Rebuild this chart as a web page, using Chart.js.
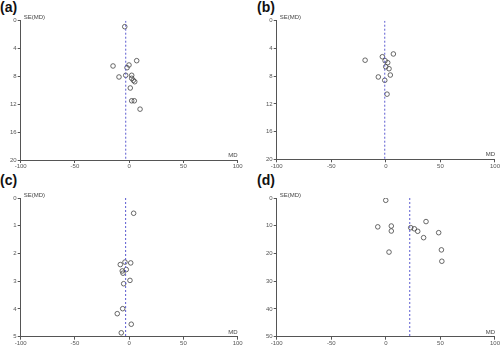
<!DOCTYPE html>
<html>
<head>
<meta charset="utf-8">
<script src="https://cdn.jsdelivr.net/npm/chart.js@4"></script>
<style>
  body { margin: 0; width: 500px; height: 345px; background: #fff; position: relative; overflow: hidden;
         font-family: "Liberation Sans", Arial, sans-serif; }
  canvas { position: absolute; }
  .tag { position: absolute; font-weight: bold; font-size: 14px; line-height: 14px; color: #111; }
</style>
</head>
<body>
<div class="tag" style="left:0px;top:0px">(a)</div>
<div class="tag" style="left:257px;top:0px">(b)</div>
<div class="tag" style="left:0px;top:173px">(c)</div>
<div class="tag" style="left:257px;top:173px">(d)</div>
<canvas id="pa" width="250" height="172" style="left:0;top:0"></canvas>
<canvas id="pb" width="250" height="172" style="left:250px;top:0"></canvas>
<canvas id="pc" width="250" height="173" style="left:0;top:172px"></canvas>
<canvas id="pd" width="250" height="173" style="left:250px;top:172px"></canvas>
<script>
// Funnel plots: mean difference (MD) against its standard error SE(MD)
const mdTicks = [-100, -50, 0, 50, 100];

// (a)
const mdA = [-4.1, 6.9, -0.2, -14.9, -2.0, -9.4, -3.2, 2.3, 2.3, 3.8, 5.1, 1.0, 2.3, 4.7, 10.0];
const seA = [0.86, 5.74, 6.36, 6.5, 6.75, 8.08, 7.84, 7.84, 8.27, 8.56, 8.76, 9.66, 11.5, 11.5, 12.7];
const pooledA = -3.2;
const seTicksA = [0, 4, 8, 12, 16, 20];

// (b)
const mdB = [6.9, -19.0, -3.2, -0.7, 1.7, -0.1, 2.9, 4.1, -6.9, -1.0, 1.1];
const seB = [4.8, 5.7, 5.2, 5.77, 6.06, 6.64, 6.93, 7.84, 8.12, 8.6, 10.6];
const pooledB = -1.0;
const seTicksB = [0, 4, 8, 12, 16, 20];

// (c)
const mdC = [4.1, -3.9, 1.4, -8.2, -2.7, -6.4, -5.7, 0.7, -5.1, -6.0, -11.0, 1.9, -7.3];
const seC = [0.55, 2.31, 2.34, 2.4, 2.58, 2.63, 2.71, 2.97, 3.09, 3.99, 4.17, 4.55, 4.86];
const pooledC = -3.3;
const seTicksC = [0, 1, 2, 3, 4, 5];

// (d)
const mdD = [-0.1, -7.4, 5.0, 5.0, 36.8, 22.8, 26.1, 29.2, 48.4, 34.6, 2.9, 50.9, 51.3];
const seD = [0.83, 10.4, 10.1, 11.9, 8.5, 10.7, 11.1, 12.0, 12.5, 14.3, 19.5, 18.7, 22.8];
const pooledD = 21.9;
const seTicksD = [0, 10, 20, 30, 40, 50];

const axisColor = '#555';
const tickFont = { family: '"Liberation Sans", Arial, sans-serif', size: 6 };

const axisTitles = {
  id: 'axisTitles',
  afterDraw(chart) {
    const { ctx, chartArea } = chart;
    ctx.save();
    ctx.fillStyle = '#444';
    ctx.font = '6px "Liberation Sans", Arial, sans-serif';
    ctx.textAlign = 'left';
    ctx.textBaseline = 'alphabetic';
    ctx.fillText('SE(MD)', chartArea.left + 3, chartArea.top - 1.5);
    ctx.textAlign = 'right';
    ctx.fillText('MD', chartArea.right, chartArea.bottom - 3);
    ctx.restore();
  }
};

function funnel(id, md, se, pooled, seTicks, box) {
  const canvas = document.getElementById(id);
  const seMax = seTicks[seTicks.length - 1];
  const points = md.map((v, i) => ({ x: v, y: se[i] }));
  new Chart(canvas, {
    type: 'scatter',
    data: {
      datasets: [
        {
          type: 'line',
          data: [{ x: pooled, y: seTicks[0] }, { x: pooled, y: seMax }],
          borderColor: '#5b5bd0',
          borderWidth: 1,
          borderDash: [2, 2],
          pointRadius: 0,
          fill: false
        },
        {
          data: points,
          pointStyle: 'circle',
          pointRadius: 2.3,
          borderWidth: 0.8,
          borderColor: '#444',
          backgroundColor: 'rgba(0,0,0,0)'
        }
      ]
    },
    options: {
      responsive: false,
      animation: false,
      devicePixelRatio: 1,
      layout: { padding: { left: 0, top: box.top, right: canvas.width - box.right, bottom: 0 } },
      plugins: { legend: { display: false }, tooltip: { enabled: false } },
      scales: {
        x: {
          type: 'linear',
          min: mdTicks[0],
          max: mdTicks[mdTicks.length - 1],
          afterBuildTicks: s => { s.ticks = mdTicks.map(v => ({ value: v })); },
          afterFit: s => { s.height = canvas.height - box.bottom; },
          border: { display: true, color: axisColor, width: 1 },
          grid: { display: true, drawOnChartArea: false, drawTicks: true, tickLength: 3, color: axisColor },
          ticks: { font: tickFont, color: '#555', padding: 0, maxRotation: 0, autoSkip: false }
        },
        y: {
          type: 'linear',
          reverse: true,
          min: seTicks[0],
          max: seMax,
          afterBuildTicks: s => { s.ticks = seTicks.map(v => ({ value: v })); },
          afterFit: s => { s.width = box.left; },
          border: { display: true, color: axisColor, width: 1 },
          grid: { display: true, drawOnChartArea: false, drawTicks: true, tickLength: 3, color: axisColor },
          ticks: { font: tickFont, color: '#555', padding: 1, autoSkip: false }
        }
      }
    },
    plugins: [axisTitles]
  });
}

funnel('pa', mdA, seA, pooledA, seTicksA, { left: 20.7, right: 237.7, top: 20.7, bottom: 160 });
funnel('pb', mdB, seB, pooledB, seTicksB, { left: 26.7, right: 245, top: 20.7, bottom: 159.3 });
funnel('pc', mdC, seC, pooledC, seTicksC, { left: 20.7, right: 237.7, top: 26, bottom: 164.7 });
funnel('pd', mdD, seD, pooledD, seTicksD, { left: 26.7, right: 245, top: 26, bottom: 164.7 });
</script>
</body>
</html>
